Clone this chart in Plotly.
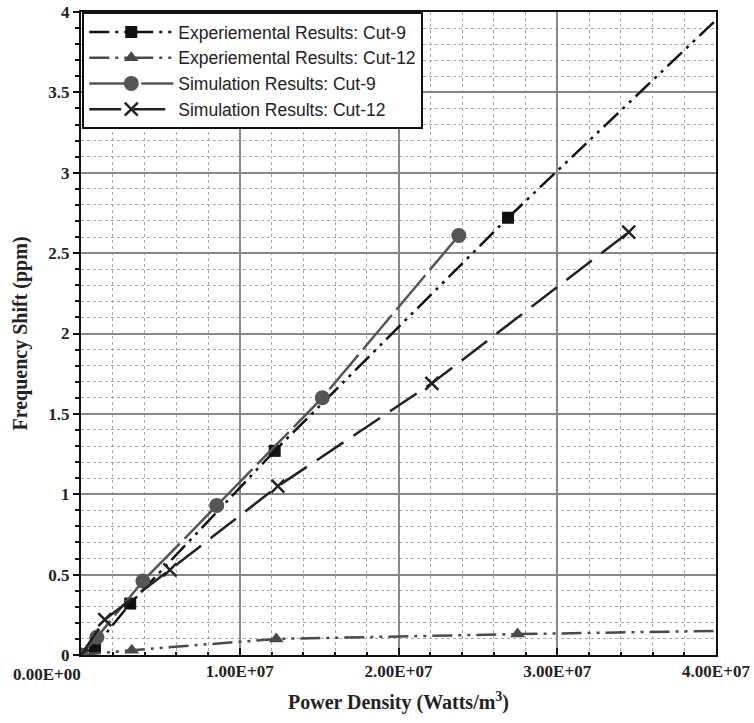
import plotly.graph_objects as go

# ---- data ----
exp9_x = [0, 0.088e7, 0.31e7, 1.22e7, 2.69e7]
exp9_y = [0, 0.05, 0.32, 1.27, 2.72]
exp9_ext_x = [2.69e7, 4.0e7]
exp9_ext_y = [2.72, 3.95]

exp12_x = [0, 0.32e7, 1.23e7, 2.75e7]
exp12_y = [0, 0.03, 0.10, 0.13]
exp12_ext_x = [2.75e7, 4.0e7]
exp12_ext_y = [0.13, 0.15]

sim9_x = [0, 0.10e7, 0.39e7, 0.855e7, 1.52e7, 2.38e7]
sim9_y = [0, 0.11, 0.46, 0.93, 1.60, 2.61]

sim12_x = [0, 0.15e7, 0.56e7, 1.24e7, 2.21e7, 3.45e7]
sim12_y = [0, 0.22, 0.53, 1.05, 1.69, 2.63]

x_tickvals = [0, 1e7, 2e7, 3e7, 4e7]
x_ticktext = ["0.00E+00", "1.00E+07", "2.00E+07", "3.00E+07", "4.00E+07"]
y_tickvals = [0, 0.5, 1, 1.5, 2, 2.5, 3, 3.5, 4]
y_ticktext = ["0", "0.5", "1", "1.5", "2", "2.5", "3", "3.5", "4"]

names = ["Experiemental Results: Cut-9", "Experiemental Results: Cut-12",
         "Simulation Results: Cut-9", "Simulation Results: Cut-12"]

DDOT = "20px,6px,3px,6px,3px,6px"

fig = go.Figure()
fig.add_trace(go.Scatter(x=exp9_x, y=exp9_y, mode="lines+markers", name=names[0],
                         line=dict(color="#111111", width=2.5, dash=DDOT),
                         marker=dict(symbol="square", size=12, color="#111111")))
fig.add_trace(go.Scatter(x=exp9_ext_x, y=exp9_ext_y, mode="lines", showlegend=False,
                         line=dict(color="#111111", width=2.5, dash=DDOT)))
fig.add_trace(go.Scatter(x=exp12_x, y=exp12_y, mode="lines+markers", name=names[1],
                         line=dict(color="#4a4a4a", width=2.5, dash=DDOT),
                         marker=dict(symbol="triangle-up", size=13, color="#4a4a4a")))
fig.add_trace(go.Scatter(x=exp12_ext_x, y=exp12_ext_y, mode="lines", showlegend=False,
                         line=dict(color="#4a4a4a", width=2.5, dash=DDOT)))
fig.add_trace(go.Scatter(x=sim9_x, y=sim9_y, mode="lines+markers", name=names[2],
                         line=dict(color="#555555", width=2.5, dash="45px,7px"),
                         marker=dict(symbol="circle", size=15, color="#555555")))
fig.add_trace(go.Scatter(x=sim12_x, y=sim12_y, mode="lines+markers", name=names[3],
                         line=dict(color="#222222", width=2.5, dash="32px,12px"),
                         marker=dict(symbol="x-thin", size=13,
                                     line=dict(color="#222222", width=2.5))))

tickfont = dict(family="Liberation Serif", size=17, color="#222222", weight="bold")

fig.update_xaxes(range=[0, 4e7], tickvals=x_tickvals,
                 ticktext=[""] + x_ticktext[1:], automargin=False,
                 tickfont=tickfont, showline=True, linecolor="#111111", linewidth=2,
                 mirror=True, ticks="inside", ticklen=7, tickwidth=2, tickcolor="#111111",
                 showgrid=True, gridcolor="#888888", gridwidth=1.5,
                 minor=dict(dtick=2e6, showgrid=True, gridcolor="#a8a8a8",
                            griddash="dot", gridwidth=1, ticks="inside", ticklen=3,
                            tickcolor="#111111"),
                 zeroline=False,
                 title=dict(text="Power Density (Watts/m<sup>3</sup>)",
                            font=dict(family="Liberation Serif", size=20, color="#222222",
                                      weight="bold")))
fig.update_yaxes(range=[0, 4], tickvals=y_tickvals, ticktext=y_ticktext, automargin=False,
                 tickfont=tickfont, showline=True, linecolor="#111111", linewidth=2,
                 mirror=True, ticks="outside", ticklen=6, tickwidth=2, tickcolor="#111111",
                 showgrid=True, gridcolor="#888888", gridwidth=1.5,
                 minor=dict(dtick=0.1, showgrid=True, gridcolor="#a8a8a8",
                            griddash="dot", gridwidth=1, ticks="outside", ticklen=4,
                            tickcolor="#111111"),
                 zeroline=False,
                 title=dict(text="Frequency Shift (ppm)",
                            font=dict(family="Liberation Serif", size=20, color="#222222",
                                      weight="bold")))

# first x tick label kept inside the page, right-aligned to the axis origin
fig.add_annotation(x=x_tickvals[0], y=0, xref="x", yref="paper", text=x_ticktext[0],
                   showarrow=False, xanchor="right", yanchor="top", xshift=2, yshift=-8,
                   font=tickfont)

fig.update_layout(
    width=754, height=723,
    margin=dict(l=81, r=38, t=12, b=68, autoexpand=False),
    paper_bgcolor="white", plot_bgcolor="white",
    showlegend=True,
    legend=dict(x=0.002, y=1.0, xanchor="left", yanchor="top",
                bgcolor="white", bordercolor="#111111", borderwidth=2,
                font=dict(family="Liberation Sans", size=17.5, color="#222222"),
                itemwidth=84, tracegroupgap=0),
    font=dict(family="Liberation Serif"),
)

fig.write_html("out.html")
